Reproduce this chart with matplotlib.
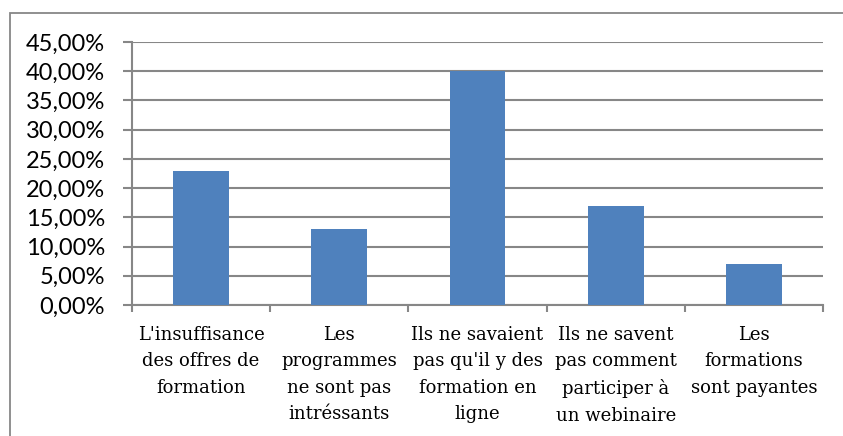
import matplotlib
matplotlib.use("Agg")
import matplotlib.pyplot as plt
from matplotlib.patches import Rectangle
from matplotlib.ticker import FuncFormatter

categories = [
    "L'insuffisance\ndes offres de\nformation",
    "Les\nprogrammes\nne sont pas\nintréssants",
    "Ils ne savaient\npas qu'il y des\nformation en\nligne",
    "Ils ne savent\npas comment\nparticiper à\nun webinaire",
    "Les\nformations\nsont payantes",
]
values = [0.23, 0.13, 0.40, 0.17, 0.07]
yticks = [0.0, 0.05, 0.10, 0.15, 0.20, 0.25, 0.30, 0.35, 0.40, 0.45]

W, H = 843, 436
fig = plt.figure(figsize=(W / 100, H / 100), dpi=100)
fig.patch.set_facecolor("white")

gray = "#878787"
# outer chart border (only top and left visible)
fig.add_artist(Rectangle((10 / W, -0.1), 2.0, (H - 13) / H + 0.1,
                         transform=fig.transFigure, fill=False,
                         edgecolor=gray, linewidth=1.3))

ax = fig.add_axes([132 / W, (H - 305) / H, (823 - 132) / W, (305 - 42) / H])
x = list(range(len(values)))
ax.bar(x, values, width=0.405, color="#4F81BD", zorder=3)
ax.set_xlim(-0.5, len(values) - 0.5)
ax.set_ylim(0, 0.45)
ax.set_yticks(yticks)
ax.yaxis.set_major_formatter(FuncFormatter(lambda v, p: f"{v*100:.2f}%".replace(".", ",")))
ax.grid(axis="y", color=gray, linewidth=1.5, zorder=0)
ax.set_axisbelow(True)

for s in ["top", "right"]:
    ax.spines[s].set_visible(False)
for s in ["left", "bottom"]:
    ax.spines[s].set_color(gray)
    ax.spines[s].set_linewidth(1.5)

ax.tick_params(axis="y", length=6.5, width=1.5, color=gray, pad=13,
               labelsize=17, labelcolor="black")
for t in ax.get_yticklabels():
    t.set_fontfamily("Lato")

ax.set_xticks([i - 0.5 for i in range(len(values) + 1)])
ax.set_xticklabels([])
ax.tick_params(axis="x", which="major", length=5, width=1.5, color=gray)
ax.set_xticks(x, minor=True)
ax.set_xticklabels(categories, minor=True, fontfamily="DejaVu Serif",
                   fontsize=13, linespacing=1.6)
ax.tick_params(axis="x", which="minor", length=0, pad=15)

fig.savefig("out.png", dpi=100)
